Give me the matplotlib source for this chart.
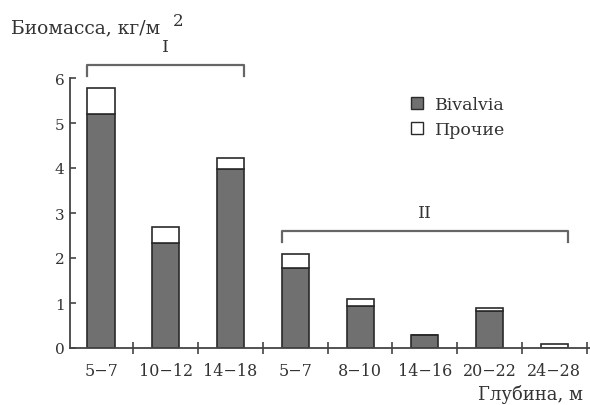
import numpy as np
import matplotlib.pyplot as plt
from matplotlib.patches import Patch

# Data
depths = ['5\u22127', '10\u221212', '14\u221218', '5\u22127', '8\u221210', '14\u221216', '20\u221222', '24\u221228']
bivalvia = [5.2, 2.33, 3.98, 1.78, 0.94, 0.3, 0.82, 0.0]
total = [5.78, 2.7, 4.22, 2.08, 1.1, 0.3, 0.9, 0.09]
other = [t - b for t, b in zip(total, bivalvia)]

plt.rcParams['font.family'] = ['DejaVu Serif']
gray = '#707070'
edge = '#2a2a2a'
txt = '#333'

fig = plt.figure(figsize=(5.9, 4.06), dpi=100)
ax = fig.add_axes([70 / 590, 1 - 349 / 406, 520 / 590, 270 / 406])

x = np.arange(len(depths))
w = 0.42
ax.bar(x, bivalvia, w, color=gray, edgecolor=edge, linewidth=1.2)
ax.bar(x, other, w, bottom=bivalvia, color='white', edgecolor=edge, linewidth=1.2)

ax.set_xlim(-0.48, 7.55)
ax.set_ylim(0, 6)
ax.set_yticks(range(7))
ax.set_xticks(x)
ax.set_xticklabels(depths, fontsize=11.5, color=txt)
ax.set_xticks(list(x + 0.5), minor=True)
ax.tick_params(axis='x', which='major', length=0, pad=10)
ax.tick_params(axis='x', which='minor', direction='inout', length=8, width=1.2, color='#444')
ax.tick_params(axis='y', direction='in', length=4, width=1.2, color='#444',
               labelsize=11, labelcolor=txt, pad=4)
for s in ['top', 'right']:
    ax.spines[s].set_visible(False)
for s in ['left', 'bottom']:
    ax.spines[s].set_color('#444')
    ax.spines[s].set_linewidth(1.3)

# Group brackets
def bracket(x0, x1, y, drop, label, ly):
    ax.plot([x0, x0, x1, x1], [y - drop, y, y, y - drop], color='#666', lw=1.6,
            clip_on=False)
    ax.text((x0 + x1) / 2, ly, label, ha='center', va='center', fontsize=12.5, color=txt)

bracket(0 - w / 2, 2 + w / 2, 6.29, 0.25, 'I', 6.71)
bracket(3 - w / 2, 7 + w / 2, 2.6, 0.25, 'II', 3.02)

handles = [Patch(facecolor=gray, edgecolor=edge, label='Bivalvia'),
           Patch(facecolor='white', edgecolor=edge, label='Прочие')]
ax.legend(handles=handles, loc='upper left', bbox_to_anchor=(0.625, 0.99), frameon=False,
          handlelength=0.7, handleheight=0.7, handletextpad=0.7, fontsize=12.5,
          labelspacing=0.45, labelcolor=txt)

fig.text(11 / 590, 1 - 28 / 406, 'Биомасса, кг/м', fontsize=13.5, va='center', color=txt)
fig.text(173 / 590, 1 - 21 / 406, '2', fontsize=12, va='center', color=txt)
fig.text(583 / 590, 1 - 395 / 406, 'Глубина, м', fontsize=13, va='center', ha='right', color=txt)

fig.savefig('out.png', dpi=100)
